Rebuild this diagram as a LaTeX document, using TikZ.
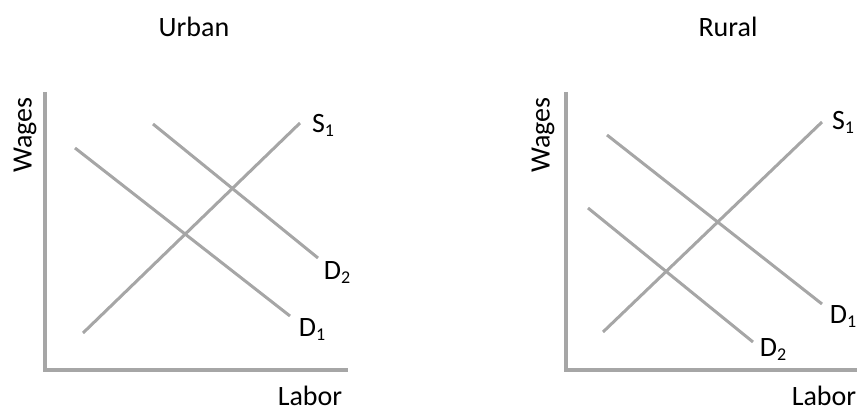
\documentclass[tikz,border=0pt]{standalone}
\usepackage{fontspec}
\setmainfont{Carlito}
\usepackage{tikz}
\usetikzlibrary{positioning}
\definecolor{LineGray}{RGB}{166,166,166}
\newcommand{\lowsub}[1]{\raisebox{-0.3ex}{\fontsize{18}{18}\selectfont #1}}

\begin{document}
\begin{tikzpicture}[x=1pt, y=-1pt,
		axis/.style={line width=4pt, LineGray},
		curve/.style={line width=3pt, LineGray},
		lbl/.style={inner sep=0pt, font=\fontsize{28}{32}\selectfont}]
	\useasboundingbox (0,0) rectangle (857,412);
	% urban market
	\node[lbl] (urban) at (194,27) {Urban};
	\coordinate (UO) at (45,370);
	\coordinate (UY) at (45,92);
	\coordinate (UX) at (348,370);
	\draw[axis] (UY) -- (UO) -- (UX);
	\node[lbl, rotate=90] (uwage) at (25,135) {Wages};
	\node[lbl] (ulabor) at (310,396) {Labor};
	\coordinate (US0) at (83,333);
	\coordinate (US1) at (300,123);
	\coordinate (UDa0) at (75,148);
	\coordinate (UDa1) at (290,316);
	\coordinate (UDb0) at (153,124);
	\coordinate (UDb1) at (318,258);
	\draw[curve] (US0) -- (US1);
	\draw[curve] (UDa0) -- (UDa1);
	\draw[curve] (UDb0) -- (UDb1);
	\node[lbl] (us) at (323,125) {S\lowsub{1}};
	\node[lbl] (uda) at (312,330) {D\lowsub{1}};
	\node[lbl] (udb) at (337,273) {D\lowsub{2}};
	% rural market
	\node[lbl] (rural) at (728,27) {Rural};
	\coordinate (RO) at (566,370);
	\coordinate (RY) at (566,92);
	\coordinate (RX) at (857,370);
	\draw[axis] (RY) -- (RO) -- (RX);
	\node[lbl, rotate=90] (rwage) at (543,135) {Wages};
	\node[lbl] (rlabor) at (824,396) {Labor};
	\coordinate (RS0) at (603,332);
	\coordinate (RS1) at (822,122);
	\coordinate (RDa0) at (607,135);
	\coordinate (RDa1) at (822,304);
	\coordinate (RDb0) at (588,208);
	\coordinate (RDb1) at (753,342);
	\draw[curve] (RS0) -- (RS1);
	\draw[curve] (RDa0) -- (RDa1);
	\draw[curve] (RDb0) -- (RDb1);
	\node[lbl] (rs) at (843,122) {S\lowsub{1}};
	\node[lbl] (rda) at (843,317) {D\lowsub{1}};
	\node[lbl] (rdb) at (773,350) {D\lowsub{2}};
\end{tikzpicture}
\end{document}
